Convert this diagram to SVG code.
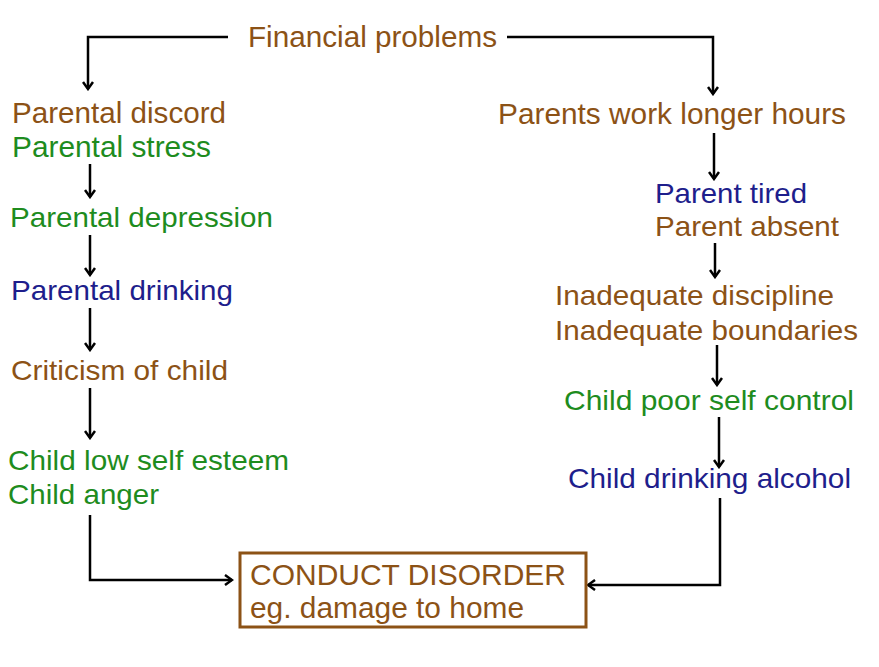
<svg xmlns="http://www.w3.org/2000/svg" width="879" height="667" viewBox="0 0 879 667">
<defs>
<style>
text{font-family:"Liberation Sans",Arial,sans-serif;font-size:28px}
.n{font-size:29px}
.br{fill:#8C5216}.gr{fill:#1E8C1E}.bl{fill:#1E1E8C}
.c{fill:none;stroke:#000;stroke-width:2.5}
</style>
<marker id="ah" markerWidth="12" markerHeight="12" refX="10" refY="6" orient="auto" markerUnits="userSpaceOnUse"><path d="M3,1 L10,6 L3,11" fill="none" stroke="#000" stroke-width="2.5"/></marker>
</defs>
<rect width="879" height="667" fill="#fff"/>
<g id="connectors">
<path class="c" d="M228,37 H88 V89" marker-end="url(#ah)"/>
<path class="c" d="M507,37 H713 V94" marker-end="url(#ah)"/>
<path class="c" d="M90,164 V197" marker-end="url(#ah)"/>
<path class="c" d="M90,235 V275" marker-end="url(#ah)"/>
<path class="c" d="M90,308 V350" marker-end="url(#ah)"/>
<path class="c" d="M90,388 V438" marker-end="url(#ah)"/>
<path class="c" d="M90,515 V580 H232" marker-end="url(#ah)"/>
<path class="c" d="M714,133 V179" marker-end="url(#ah)"/>
<path class="c" d="M715,243 V277" marker-end="url(#ah)"/>
<path class="c" d="M717,345 V385" marker-end="url(#ah)"/>
<path class="c" d="M719,417 V467" marker-end="url(#ah)"/>
<path class="c" d="M720,498 V585 H588" marker-end="url(#ah)"/>
</g>
<g id="financial"><text class="br n" x="248" y="47" textLength="249" lengthAdjust="spacingAndGlyphs">Financial problems</text></g>
<g id="parental-discord"><text class="br n" x="12" y="123" textLength="214" lengthAdjust="spacingAndGlyphs">Parental discord</text><text class="gr n" x="12" y="157" textLength="199" lengthAdjust="spacingAndGlyphs">Parental stress</text></g>
<g id="parental-depression"><text class="gr" x="10" y="227" textLength="263" lengthAdjust="spacingAndGlyphs">Parental depression</text></g>
<g id="parental-drinking"><text class="bl" x="11" y="300" textLength="222" lengthAdjust="spacingAndGlyphs">Parental drinking</text></g>
<g id="criticism"><text class="br" x="11" y="380" textLength="217" lengthAdjust="spacingAndGlyphs">Criticism of child</text></g>
<g id="child-esteem"><text class="gr" x="8" y="470" textLength="281" lengthAdjust="spacingAndGlyphs">Child low self esteem</text><text class="gr" x="8" y="504" textLength="151" lengthAdjust="spacingAndGlyphs">Child anger</text></g>
<g id="work-hours"><text class="br n" x="498" y="124" textLength="348" lengthAdjust="spacingAndGlyphs">Parents work longer hours</text></g>
<g id="parent-tired"><text class="bl" x="655" y="203" textLength="152" lengthAdjust="spacingAndGlyphs">Parent tired</text><text class="br" x="655" y="236" textLength="184" lengthAdjust="spacingAndGlyphs">Parent absent</text></g>
<g id="inadequate"><text class="br" x="555" y="305" textLength="279" lengthAdjust="spacingAndGlyphs">Inadequate discipline</text><text class="br" x="555" y="340" textLength="303" lengthAdjust="spacingAndGlyphs">Inadequate boundaries</text></g>
<g id="poor-control"><text class="gr" x="564" y="410" textLength="290" lengthAdjust="spacingAndGlyphs">Child poor self control</text></g>
<g id="child-drinking"><text class="bl" x="568" y="488" textLength="283" lengthAdjust="spacingAndGlyphs">Child drinking alcohol</text></g>
<g id="conduct-disorder"><rect x="240" y="553" width="346" height="74" fill="#fff" stroke="#8C5216" stroke-width="3"/><text class="br n" x="250" y="585" textLength="316" lengthAdjust="spacingAndGlyphs">CONDUCT DISORDER</text><text class="br n" x="250" y="618" textLength="274" lengthAdjust="spacingAndGlyphs">eg. damage to home</text></g>
</svg>
